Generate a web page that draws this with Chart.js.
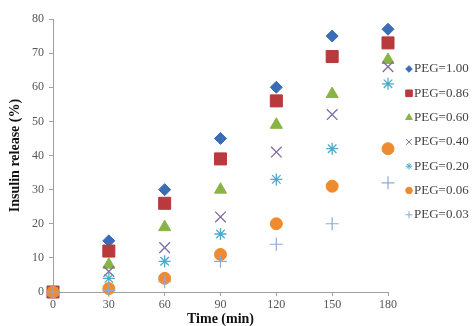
<!DOCTYPE html>
<html>
<head>
<meta charset="utf-8">
<script src="https://cdn.jsdelivr.net/npm/chart.js@4/dist/chart.umd.min.js"></script>
<style>
html,body{margin:0;padding:0;background:#fff;}
#wrap{width:472px;height:326px;position:relative;}
</style>
</head>
<body>
<div id="wrap"><canvas id="c" width="472" height="326"></canvas></div>
<script>
const times = [0, 30, 60, 90, 120, 150, 180];
const xTicks = [0, 30, 60, 90, 120, 150, 180];
const yTicks = [0, 10, 20, 30, 40, 50, 60, 70, 80];
const seriesNames = ["PEG=1.00", "PEG=0.86", "PEG=0.60", "PEG=0.40", "PEG=0.20", "PEG=0.06", "PEG=0.03"];
const peg100 = [0, 15, 30, 45, 60, 75, 77];
const peg086 = [0, 12, 26, 39, 56, 69, 73];
const peg060 = [0, 8, 19, 30, 49, 58, 68];
const peg040 = [0, 6, 13, 22, 41, 52, 66];
const peg020 = [0, 4, 9, 17, 33, 42, 61];
const peg006 = [0, 1, 4, 11, 20, 31, 42];
const peg003 = [0, 0.5, 3, 9, 14, 20, 32];
const seriesValues = [peg100, peg086, peg060, peg040, peg020, peg006, peg003];

const styles = [
  {pointStyle: 'rectRot', color: '#3A6DB5', radius: 6, lw: 1},
  {pointStyle: 'rect', color: '#B83A3C', radius: 8.5, lw: 1},
  {pointStyle: 'triangle', color: '#8AB346', radius: 7, lw: 1},
  {pointStyle: 'crossRot', color: '#7E6BA0', radius: 7.5, lw: 1.3},
  {pointStyle: 'star', color: '#4BACC6', radius: 6, lw: 1.3},
  {pointStyle: 'circle', color: '#EF8A2E', radius: 6, lw: 1},
  {pointStyle: 'cross', color: '#8FAAD6', radius: 6.5, lw: 1.2}
];

const datasets = seriesNames.map((name, i) => ({
  label: name,
  data: times.map((t, j) => ({x: t, y: seriesValues[i][j]})),
  showLine: false,
  clip: false,
  pointStyle: styles[i].pointStyle,
  pointRadius: styles[i].radius,
  pointHoverRadius: styles[i].radius,
  pointBackgroundColor: styles[i].color,
  pointBorderColor: styles[i].color,
  pointBorderWidth: styles[i].lw,
  backgroundColor: styles[i].color,
  borderColor: styles[i].color,
  order: seriesNames.length - i
}));

const legendPlugin = {
  id: 'customLegend',
  afterDraw(chart) {
    const ctx = chart.ctx;
    ctx.save();
    ctx.font = '13px "Liberation Serif", serif';
    ctx.textBaseline = 'middle';
    ctx.textAlign = 'left';
    seriesNames.forEach((name, i) => {
      const y = 69 + i * 24.3;
      const s = styles[i];
      ctx.fillStyle = s.color;
      ctx.strokeStyle = s.color;
      ctx.lineWidth = 1;
      Chart.helpers.drawPoint(ctx, {pointStyle: s.pointStyle, radius: s.radius * 0.55, rotation: 0, borderWidth: 1}, 409, y);
      ctx.fillStyle = '#444';
      ctx.fillText(name, 414, y);
    });
    ctx.restore();
  }
};

new Chart(document.getElementById('c'), {
  type: 'scatter',
  data: {datasets},
  plugins: [legendPlugin],
  options: {
    responsive: false,
    animation: false,
    layout: {padding: {left: 0, right: 84, top: 19, bottom: 0}},
    plugins: {legend: {display: false}, tooltip: {enabled: false}},
    scales: {
      x: {
        type: 'linear', min: 0, max: 180,
        afterFit(s) { s.height = 34; },
        afterBuildTicks(s) { s.ticks = xTicks.map(v => ({value: v})); },
        border: {color: '#A0A0A0', width: 1},
        grid: {drawOnChartArea: false, drawTicks: true, tickLength: 4, color: '#A0A0A0'},
        ticks: {color: '#555', font: {family: 'Liberation Serif', size: 12}, padding: 2, maxRotation: 0},
        title: {display: true, text: 'Time (min)', color: '#111', font: {family: 'Liberation Serif', size: 14, weight: 'bold'}, padding: {top: 0, bottom: -2}}
      },
      y: {
        type: 'linear', min: 0, max: 80,
        afterFit(s) { s.width = 53; },
        afterBuildTicks(s) { s.ticks = yTicks.map(v => ({value: v})); },
        border: {color: '#A0A0A0', width: 1},
        grid: {drawOnChartArea: false, drawTicks: true, tickLength: 4, color: '#A0A0A0'},
        ticks: {color: '#555', font: {family: 'Liberation Serif', size: 12}, padding: 5},
        title: {display: true, text: 'Insulin release (%)', color: '#111', font: {family: 'Liberation Serif', size: 14, weight: 'bold'}, padding: {top: 7, bottom: 0}}
      }
    }
  }
});
</script>
</body>
</html>
